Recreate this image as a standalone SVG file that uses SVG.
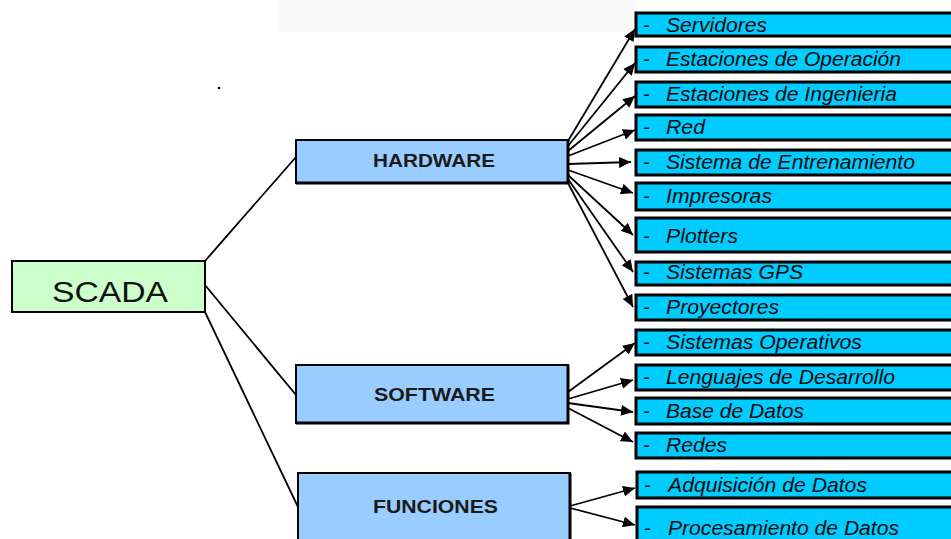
<svg xmlns="http://www.w3.org/2000/svg" width="951" height="539" viewBox="0 0 951 539">
<defs>
<marker id="ah" markerUnits="userSpaceOnUse" markerWidth="13" markerHeight="11" refX="12" refY="5.5" orient="auto">
<path d="M0,0 L12,5.5 L0,11 Z" fill="#000"/>
</marker>
<style>
.leaf rect{fill:#00CCFF;stroke:#000;stroke-width:3}
.leaf text{font-family:"Liberation Sans",Arial,sans-serif;font-style:italic;font-size:19.5px;fill:#0a0a0a}
.mid rect{fill:#99CCFF;stroke:#000;stroke-width:2}
.mid .sh{fill:none;stroke:#000;stroke-width:3}
.mid text{font-family:"Liberation Sans",Arial,sans-serif;font-weight:bold;font-size:18px;fill:#1a1a1a}
.conn line{stroke:#000;stroke-width:1.8}
.conn .a{marker-end:url(#ah)}
</style>
</defs>
<rect x="277" y="0" width="360" height="32" fill="#fafafa"/>
<circle cx="219" cy="88" r="1.3" fill="#000"/>

<g id="scada">
<rect x="12" y="261" width="193" height="51" fill="#CCFFCC" stroke="#000" stroke-width="2"/>
<text x="52" y="302" font-family="'Liberation Sans',Arial,sans-serif" font-size="29" textLength="116" lengthAdjust="spacingAndGlyphs" fill="#111">SCADA</text>
</g>

<g id="hardware" class="mid">
<rect x="296" y="140" width="272" height="43"/>
<path class="sh" d="M568,140 V183 H296"/>
<text x="373" y="167" textLength="122" lengthAdjust="spacingAndGlyphs">HARDWARE</text>
</g>
<g id="software" class="mid">
<rect x="296" y="365" width="272" height="58"/>
<path class="sh" d="M568,365 V423 H296"/>
<text x="374" y="401" textLength="121" lengthAdjust="spacingAndGlyphs">SOFTWARE</text>
</g>
<g id="funciones" class="mid">
<rect x="298" y="473" width="272" height="80"/>
<path class="sh" d="M570,473 V553"/>
<text x="373" y="513" textLength="125" lengthAdjust="spacingAndGlyphs">FUNCIONES</text>
</g>

<g id="servidores" class="leaf"><rect x="636" y="13" width="330" height="23"/><text x="643" y="32">-</text><text x="666" y="32" textLength="101" lengthAdjust="spacingAndGlyphs">Servidores</text></g>
<g id="est-operacion" class="leaf"><rect x="636" y="47" width="330" height="25"/><text x="643" y="66">-</text><text x="666" y="66" textLength="235" lengthAdjust="spacingAndGlyphs">Estaciones de Operación</text></g>
<g id="est-ingenieria" class="leaf"><rect x="636" y="82" width="330" height="25"/><text x="643" y="101">-</text><text x="666" y="101" textLength="231" lengthAdjust="spacingAndGlyphs">Estaciones de Ingenieria</text></g>
<g id="red" class="leaf"><rect x="636" y="115" width="330" height="25"/><text x="643" y="134">-</text><text x="666" y="134" textLength="39" lengthAdjust="spacingAndGlyphs">Red</text></g>
<g id="entrenamiento" class="leaf"><rect x="636" y="150" width="330" height="25"/><text x="643" y="169">-</text><text x="666" y="169" textLength="249" lengthAdjust="spacingAndGlyphs">Sistema de Entrenamiento</text></g>
<g id="impresoras" class="leaf"><rect x="636" y="183" width="330" height="27"/><text x="643" y="203">-</text><text x="666" y="203" textLength="106" lengthAdjust="spacingAndGlyphs">Impresoras</text></g>
<g id="plotters" class="leaf"><rect x="636" y="218" width="330" height="34"/><text x="643" y="243">-</text><text x="666" y="243" textLength="72" lengthAdjust="spacingAndGlyphs">Plotters</text></g>
<g id="gps" class="leaf"><rect x="636" y="262" width="330" height="23"/><text x="643" y="279">-</text><text x="666" y="279" textLength="137" lengthAdjust="spacingAndGlyphs">Sistemas GPS</text></g>
<g id="proyectores" class="leaf"><rect x="636" y="295" width="330" height="25"/><text x="643" y="314">-</text><text x="666" y="314" textLength="113" lengthAdjust="spacingAndGlyphs">Proyectores</text></g>
<g id="sist-operativos" class="leaf"><rect x="636" y="330" width="330" height="25"/><text x="643" y="349">-</text><text x="666" y="349" textLength="196" lengthAdjust="spacingAndGlyphs">Sistemas Operativos</text></g>
<g id="lenguajes" class="leaf"><rect x="636" y="365" width="330" height="25"/><text x="643" y="384">-</text><text x="666" y="384" textLength="229" lengthAdjust="spacingAndGlyphs">Lenguajes de Desarrollo</text></g>
<g id="base-datos" class="leaf"><rect x="636" y="398" width="330" height="26"/><text x="643" y="418">-</text><text x="666" y="418" textLength="138" lengthAdjust="spacingAndGlyphs">Base de Datos</text></g>
<g id="redes" class="leaf"><rect x="636" y="433" width="330" height="25"/><text x="643" y="452">-</text><text x="666" y="452" textLength="61" lengthAdjust="spacingAndGlyphs">Redes</text></g>
<g id="adquisicion" class="leaf"><rect x="637" y="472" width="330" height="26"/><text x="644" y="492">-</text><text x="668" y="492" textLength="199" lengthAdjust="spacingAndGlyphs">Adquisición de Datos</text></g>
<g id="procesamiento" class="leaf"><rect x="637" y="507" width="330" height="50"/><text x="644" y="535">-</text><text x="668" y="535" textLength="231" lengthAdjust="spacingAndGlyphs">Procesamiento de Datos</text></g>

<g id="connectors" class="conn">
<line x1="205" y1="261" x2="296" y2="157"/>
<line x1="205" y1="285" x2="296" y2="395"/>
<line x1="205" y1="312" x2="298" y2="507"/>
<line class="a" x1="568" y1="141" x2="635" y2="29"/>
<line class="a" x1="568" y1="146" x2="635" y2="63"/>
<line class="a" x1="568" y1="151" x2="635" y2="96"/>
<line class="a" x1="568" y1="156" x2="635" y2="130"/>
<line class="a" x1="568" y1="164" x2="631" y2="162"/>
<line class="a" x1="568" y1="170" x2="633" y2="193"/>
<line class="a" x1="568" y1="175" x2="633" y2="235"/>
<line class="a" x1="568" y1="179" x2="633" y2="272"/>
<line class="a" x1="568" y1="183" x2="633" y2="307"/>
<line class="a" x1="568" y1="392" x2="635" y2="343"/>
<line class="a" x1="568" y1="399" x2="633" y2="380"/>
<line class="a" x1="568" y1="403" x2="633" y2="412"/>
<line class="a" x1="568" y1="408" x2="633" y2="442"/>
<line class="a" x1="570" y1="506" x2="635" y2="488"/>
<line class="a" x1="570" y1="508" x2="635" y2="525"/>
</g>
</svg>
